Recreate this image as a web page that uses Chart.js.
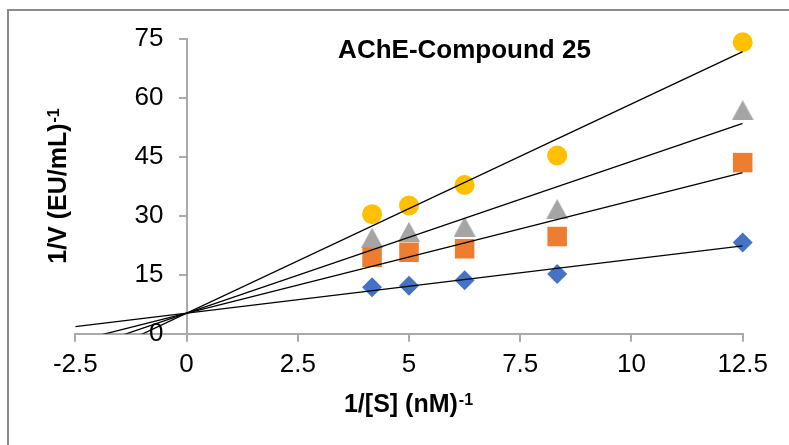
<!DOCTYPE html>
<html>
<head>
<meta charset="utf-8">
<script src="https://cdn.jsdelivr.net/npm/chart.js@4/dist/chart.umd.min.js"></script>
<style>
  html, body { margin: 0; padding: 0; background: #ffffff; }
  #wrap { width: 789px; height: 445px; position: relative; }
</style>
</head>
<body>
<div id="wrap"><canvas id="c" width="789" height="445"></canvas></div>
<script>
// ---- data ----
const chartTitle = 'AChE-Compound 25';
const xTitle = '1/[S] (nM)';
const yTitle = '1/V (EU/mL)';
const axisSup = '-1';

const invS = [4.17, 5, 6.25, 8.33, 12.5];           // 1/[S]
const seriesBlue   = [11.8, 12.2, 13.6, 15.2, 23.2];
const seriesOrange = [19.4, 20.7, 21.6, 24.7, 43.5];
const seriesGrey   = [24.4, 25.9, 27.2, 31.7, 56.8];
const seriesYellow = [30.4, 32.6, 37.8, 45.3, 74.1];

// trendlines (slope, intercept)
const trendSlopes     = [1.37, 2.86, 3.86, 5.32];
const trendIntercepts = [5.2, 5.2, 5.2, 5.2];
const trendRange = [-2.5, 12.5];

const xTickLabels = ['-2.5', '0', '2.5', '5', '7.5', '10', '12.5'];
const yTickLabels = ['0', '15', '30', '45', '60', '75'];

// ---- styling ----
const FONT = '"Liberation Sans", Arial, sans-serif';
const colors = ['#4472C4', '#ED7D31', '#A5A5A5', '#FFC000'];

function triangleMarker(color) {
  const c = document.createElement('canvas');
  c.width = 22; c.height = 20;
  const g = c.getContext('2d');
  g.fillStyle = color;
  g.beginPath();
  g.moveTo(11, 0); g.lineTo(22, 20); g.lineTo(0, 20); g.closePath();
  g.fill();
  return c;
}

function pts(ys) { return invS.map((x, i) => ({ x: x, y: ys[i] })); }

const trendDatasets = trendSlopes.map((m, i) => ({
  type: 'scatter',
  data: trendRange.map(x => ({ x: x, y: trendIntercepts[i] + m * x })),
  showLine: true,
  borderColor: '#000000',
  borderWidth: 1.3,
  pointRadius: 0,
  order: 0
}));

const markerDatasets = [
  { data: pts(seriesBlue),   pointStyle: 'rectRot', pointRadius: 10,  backgroundColor: colors[0], borderColor: colors[0] },
  { data: pts(seriesOrange), pointStyle: 'rect',    pointRadius: 13.8, backgroundColor: colors[1], borderColor: colors[1] },
  { data: pts(seriesGrey),   pointStyle: triangleMarker(colors[2]), pointRadius: 11, backgroundColor: colors[2], borderColor: colors[2] },
  { data: pts(seriesYellow), pointStyle: 'circle',  pointRadius: 10,  backgroundColor: colors[3], borderColor: colors[3] }
].map(d => Object.assign({ type: 'scatter', borderWidth: 0, showLine: false, order: 1, clip: false }, d));

const AREA = { left: 75.3, right: 742.7, top: 38.7, bottom: 333.7 };
const Y_LABEL_SHIFT = 23;

function drawWithSup(ctx, main, sup, mainFont, supFont, raise) {
  ctx.font = mainFont;
  const wm = ctx.measureText(main).width;
  ctx.font = supFont;
  const ws = ctx.measureText(sup).width;
  const total = wm + 1 + ws;
  ctx.textAlign = 'left';
  ctx.textBaseline = 'alphabetic';
  ctx.font = mainFont;
  ctx.fillText(main, -total / 2, 0);
  ctx.font = supFont;
  ctx.fillText(sup, -total / 2 + wm + 1, -raise);
}

const decor = {
  id: 'decor',
  beforeDraw(chart) {
    const ctx = chart.ctx;
    ctx.save();
    ctx.strokeStyle = '#8c8c8c';
    ctx.lineWidth = 2;
    ctx.strokeRect(8, 10, 1000, 1000);
    ctx.restore();
  },
  afterDraw(chart) {
    const ctx = chart.ctx;
    ctx.save();
    ctx.fillStyle = '#000000';
    ctx.font = 'bold 26px ' + FONT;
    ctx.textAlign = 'center';
    ctx.textBaseline = 'alphabetic';
    ctx.fillText(chartTitle, 464.5, 58);
    ctx.save();
    ctx.translate(408.5, 412);
    drawWithSup(ctx, xTitle, axisSup, 'bold 25px ' + FONT, 'bold 16px ' + FONT, 7);
    ctx.restore();
    ctx.save();
    ctx.translate(66, 186);
    ctx.rotate(-Math.PI / 2);
    drawWithSup(ctx, yTitle, axisSup, 'bold 25px ' + FONT, 'bold 16px ' + FONT, 7);
    ctx.restore();
    ctx.restore();
  }
};

new Chart(document.getElementById('c'), {
  type: 'scatter',
  data: { datasets: trendDatasets.concat(markerDatasets) },
  options: {
    responsive: false,
    animation: false,
    events: [],
    layout: { padding: { left: AREA.left, right: 789 - AREA.right, top: AREA.top, bottom: 0 } },
    plugins: { legend: { display: false }, tooltip: { enabled: false }, title: { display: false } },
    scales: {
      x: {
        type: 'linear',
        position: 'bottom',
        min: -2.5, max: 12.5,
        afterBuildTicks(scale) { scale.ticks = xTickLabels.map(v => ({ value: parseFloat(v) })); },
        afterFit(scale) { scale.height = 445 - AREA.bottom; scale.paddingLeft = 0; scale.paddingRight = 0; },
        ticks: {
          callback: (v, i) => xTickLabels[i],
          font: { family: FONT, size: 26 },
          color: '#000000',
          padding: 8,
          maxRotation: 0,
          autoSkip: false
        },
        grid: { drawOnChartArea: false, drawTicks: true, tickLength: 8, color: '#aaaaaa', lineWidth: 2 },
        border: { display: true, color: '#aaaaaa', width: 2 }
      },
      y: {
        type: 'linear',
        position: { x: 0 },
        min: 0, max: 75,
        afterBuildTicks(scale) { scale.ticks = yTickLabels.map(v => ({ value: parseFloat(v) })); },
        afterFit(scale) { scale.paddingTop = 0; scale.paddingBottom = 0; },
        afterUpdate(scale) {
          if (scale.__patched) return;
          scale.__patched = true;
          const orig = scale._computeLabelItems;
          scale._computeLabelItems = function (ca) {
            const items = orig.call(this, ca);
            items.forEach(it => { it.options.translation = [it.options.translation[0] - Y_LABEL_SHIFT, it.options.translation[1]]; });
            return items;
          };
        },
        ticks: {
          callback: (v, i) => yTickLabels[i],
          font: { family: FONT, size: 26 },
          color: '#000000',
          padding: 17,
          autoSkip: false
        },
        grid: { drawOnChartArea: false, drawTicks: true, tickLength: 7, color: '#aaaaaa', lineWidth: 2 },
        border: { display: true, color: '#aaaaaa', width: 2 }
      }
    }
  },
  plugins: [decor]
});
</script>
</body>
</html>
